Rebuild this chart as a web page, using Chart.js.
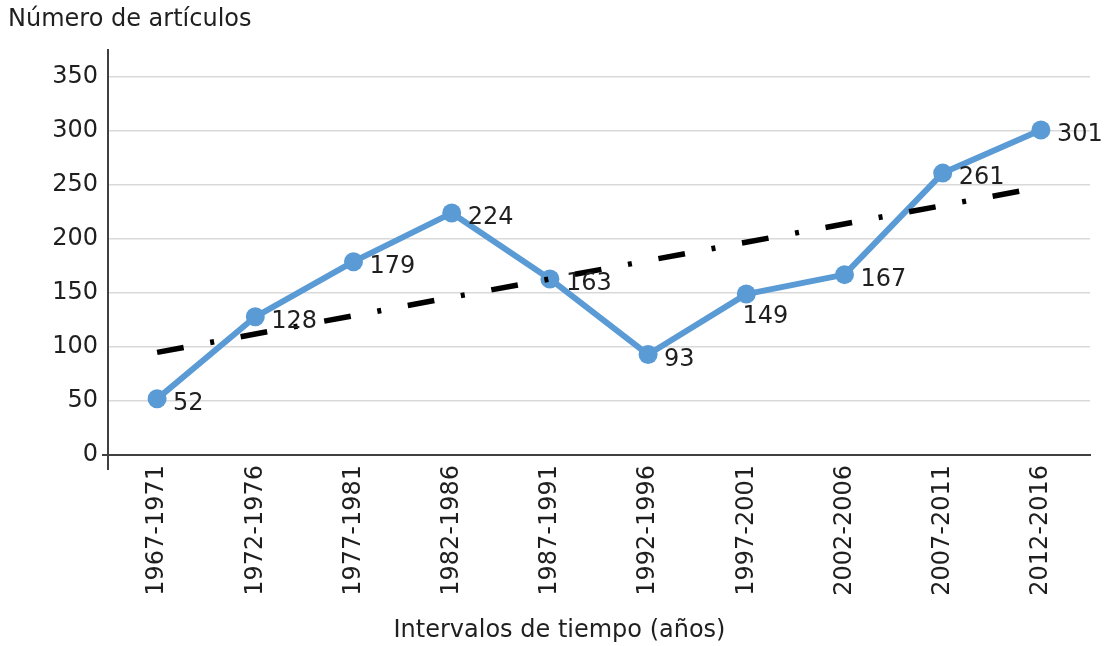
<!DOCTYPE html>
<html>
<head>
<meta charset="utf-8">
<title>Número de artículos</title>
<script src="https://cdn.jsdelivr.net/npm/chart.js@4"></script>
<style>
  html, body { margin: 0; padding: 0; background: #fff; }
  #wrap { width: 1105px; height: 646px; position: relative; }
</style>
</head>
<body>
<div id="wrap"><canvas id="myChart"></canvas></div>
<script>
// data
var intervals = ['1967-1971', '1972-1976', '1977-1981', '1982-1986', '1987-1991',
  '1992-1996', '1997-2001', '2002-2006', '2007-2011', '2012-2016'];
var articles = [52, 128, 179, 224, 163, 93, 149, 167, 261, 301];
// trend line ends (dash-dot), read at first and last interval
var trendEnds = [95, null, null, null, null, null, null, null, null, 248];
var yTicks = [0, 50, 100, 150, 200, 250, 300, 350];
// where each value label sits next to its point
var labelPos = ['right', 'right', 'right', 'right', 'right', 'right', 'below', 'right', 'right', 'right'];

var FONT = '"DejaVu Sans", Verdana, sans-serif';
var FSIZE = 24;
var TEXT = '#1f1f1f';

// draws the value labels, both titles and the small axis stubs
var extras = {
  id: 'extras',
  afterDatasetsDraw: function (chart) {
    var ctx = chart.ctx;
    var meta = chart.getDatasetMeta(1);
    ctx.save();
    ctx.font = FSIZE + 'px ' + FONT;
    ctx.fillStyle = TEXT;
    ctx.textBaseline = 'middle';
    meta.data.forEach(function (pt, i) {
      if (labelPos[i] === 'below') {
        ctx.textAlign = 'center';
        ctx.fillText(String(articles[i]), pt.x + 19, pt.y + 23);
      } else {
        ctx.textAlign = 'left';
        ctx.fillText(String(articles[i]), pt.x + 16, pt.y + 5);
      }
    });
    ctx.restore();
  },
  afterDraw: function (chart) {
    var ctx = chart.ctx;
    var area = chart.chartArea;
    ctx.save();
    ctx.font = FSIZE + 'px ' + FONT;
    ctx.fillStyle = TEXT;
    ctx.textBaseline = 'middle';
    ctx.textAlign = 'left';
    ctx.fillText('Número de artículos', 8, 20);
    // x title sits centred on the whole picture, not the plot
    ctx.textAlign = 'center';
    ctx.fillText('Intervalos de tiempo (años)', chart.width / 2 + 7, chart.height - 15);

    ctx.strokeStyle = '#404040';
    ctx.lineWidth = 2;
    ctx.beginPath();
    ctx.moveTo(area.left, area.bottom);
    ctx.lineTo(area.left, area.bottom + 15);
    ctx.moveTo(area.left - 6, area.bottom);
    ctx.lineTo(area.left, area.bottom);
    ctx.stroke();
    ctx.restore();
  }
};

var ctx = document.getElementById('myChart').getContext('2d');
var myChart = new Chart(ctx, {
  type: 'line',
  data: {
    labels: intervals,
    datasets: [{
      label: 'Tendencia',
      data: trendEnds,
      spanGaps: true,
      borderColor: '#000000',
      borderWidth: 5.5,
      borderDash: [27, 27, 4, 27],
      borderCapStyle: 'butt',
      pointRadius: 0,
      fill: false,
      order: 0
    }, {
      label: 'Número de artículos',
      data: articles,
      borderColor: '#5b9bd5',
      backgroundColor: '#5b9bd5',
      borderWidth: 6,
      borderJoinStyle: 'round',
      tension: 0,
      pointRadius: 9.5,
      pointBorderWidth: 0,
      pointBackgroundColor: '#5b9bd5',
      fill: false,
      order: 1
    }]
  },
  options: {
    responsive: true,
    maintainAspectRatio: false,
    animation: false,
    layout: { padding: { top: 50, right: 15, left: 0, bottom: 0 } },
    plugins: {
      legend: { display: false },
      tooltip: { enabled: false }
    },
    scales: {
      x: {
        offset: true,
        grid: { display: false, drawTicks: false },
        border: { display: true, color: '#404040', width: 2 },
        ticks: {
          color: TEXT,
          font: { family: FONT, size: FSIZE },
          minRotation: 90,
          maxRotation: 90,
          padding: 10,
          autoSkip: false
        },
        afterFit: function (scale) { scale.height = 191; }
      },
      y: {
        min: 0,
        max: 375,
        grid: { color: '#d9d9d9', lineWidth: 1.5, drawTicks: false },
        border: { display: true, color: '#404040', width: 2 },
        ticks: {
          stepSize: 50,
          color: TEXT,
          font: { family: FONT, size: FSIZE },
          padding: 10
        },
        afterBuildTicks: function (scale) {
          scale.ticks = yTicks.map(function (v) { return { value: v }; });
        },
        afterFit: function (scale) { scale.width = 108; }
      }
    }
  },
  plugins: [extras]
});
</script>
</body>
</html>
